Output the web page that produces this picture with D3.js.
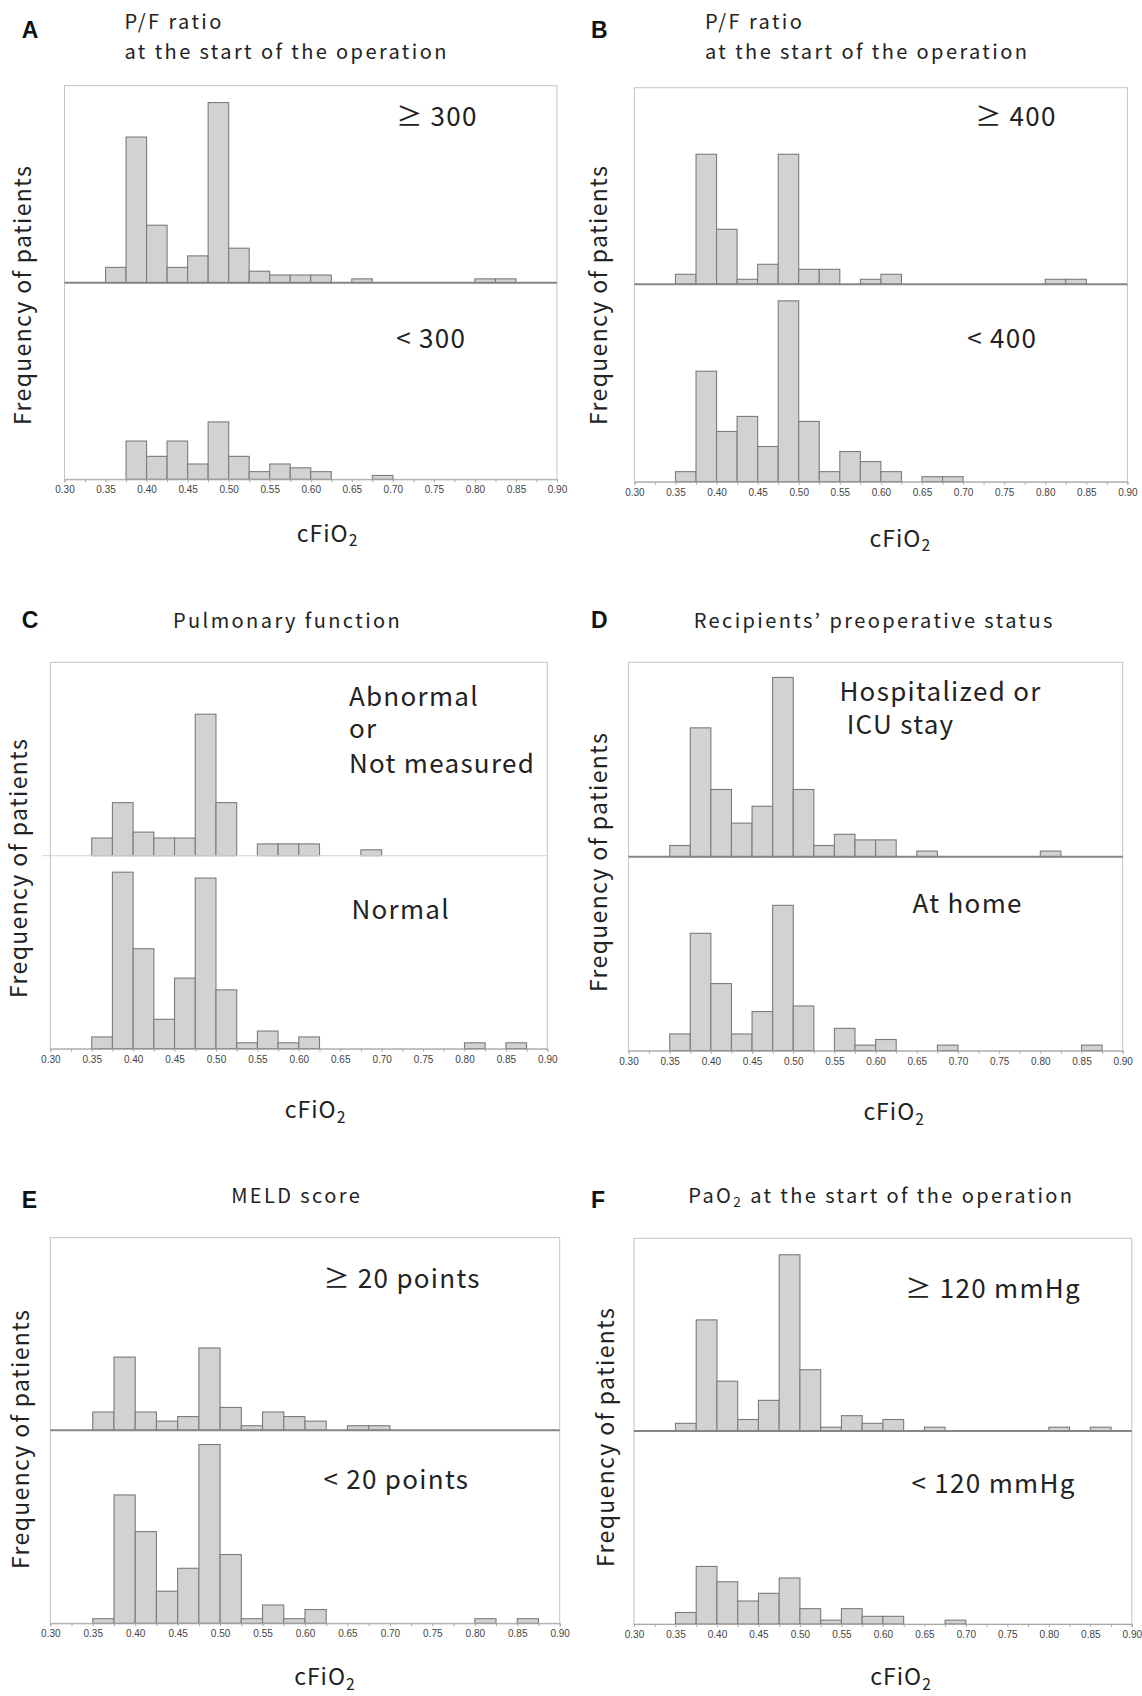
<!DOCTYPE html>
<html>
<head>
<meta charset="utf-8">
<script src="https://cdn.jsdelivr.net/npm/d3@7"></script>
<style>
body { margin: 0; background: #fff; }
svg text { font-family: "Noto Sans CJK JP", "Noto Sans", sans-serif; fill: #222; }
</style>
</head>
<body>
<svg id="fig" width="1142" height="1696"></svg>
<script>
// bins of cFiO2 (start of each 0.025 wide bin)
var binStart = [0.350, 0.375, 0.400, 0.425, 0.450, 0.475, 0.500, 0.525, 0.550, 0.575,
                0.600, 0.625, 0.650, 0.675, 0.700, 0.725, 0.750, 0.775, 0.800, 0.825, 0.850];
var binWidth = 0.025;
var tickValues = [0.30, 0.35, 0.40, 0.45, 0.50, 0.55, 0.60, 0.65, 0.70, 0.75, 0.80, 0.85, 0.90];
var tickLabels = ["0.30", "0.35", "0.40", "0.45", "0.50", "0.55", "0.60", "0.65", "0.70", "0.75", "0.80", "0.85", "0.90"];

var panelLetters = ["A", "B", "C", "D", "E", "F"];
var panelTitles = [
    ["P/F ratio", "at the start of the operation"],
    ["P/F ratio", "at the start of the operation"],
    ["Pulmonary function"],
    ["Recipients\u2019 preoperative status"],
    ["MELD score"],
    ["PaO_2 at the start of the operation"]
];
var topGroups = [["\u2265 300"], ["\u2265 400"], ["Abnormal", "or", "Not measured"],
                 ["Hospitalized or", "ICU stay"], ["\u2265 20 points"], ["\u2265 120 mmHg"]];
var bottomGroups = [["< 300"], ["< 400"], ["Normal"], ["At home"], ["< 20 points"], ["< 120 mmHg"]];

// frequency of patients per bin (upper group / lower group)
var countsA_top = [4, 38, 15, 4, 7, 47, 9, 3, 2, 2, 2, 0, 1, 0, 0, 0, 0, 0, 1, 1, 0];
var countsA_bot = [0, 10, 6, 10, 4, 15, 6, 2, 4, 3, 2, 0, 0, 1, 0, 0, 0, 0, 0, 0, 0];
var countsB_top = [2, 26, 11, 1, 4, 26, 3, 3, 0, 1, 2, 0, 0, 0, 0, 0, 0, 0, 1, 1, 0];
var countsB_bot = [2, 22, 10, 13, 7, 36, 12, 2, 6, 4, 2, 0, 1, 1, 0, 0, 0, 0, 0, 0, 0];
var countsC_top = [3, 9, 4, 3, 3, 24, 9, 0, 2, 2, 2, 0, 0, 1, 0, 0, 0, 0, 0, 0, 0];
var countsC_bot = [2, 30, 17, 5, 12, 29, 10, 1, 3, 1, 2, 0, 0, 0, 0, 0, 0, 0, 1, 0, 1];
var countsD_top = [2, 23, 12, 6, 9, 32, 12, 2, 4, 3, 3, 0, 1, 0, 0, 0, 0, 0, 1, 0, 0];
var countsD_bot = [3, 21, 12, 3, 7, 26, 8, 0, 4, 1, 2, 0, 0, 1, 0, 0, 0, 0, 0, 0, 1];
var countsE_top = [4, 16, 4, 2, 3, 18, 5, 1, 4, 3, 2, 0, 1, 1, 0, 0, 0, 0, 0, 0, 0];
var countsE_bot = [1, 28, 20, 7, 12, 39, 15, 1, 4, 1, 3, 0, 0, 0, 0, 0, 0, 0, 1, 0, 1];
var countsF_top = [2, 29, 13, 3, 8, 46, 16, 1, 4, 2, 3, 0, 1, 0, 0, 0, 0, 0, 1, 0, 1];
var countsF_bot = [3, 15, 11, 6, 8, 12, 4, 1, 4, 2, 2, 0, 0, 1, 0, 0, 0, 0, 0, 0, 0];
var yMax = [51.4, 39.3, 32.8, 34.7, 42.1, 50.3];

var topCounts = [countsA_top, countsB_top, countsC_top, countsD_top, countsE_top, countsF_top];
var botCounts = [countsA_bot, countsB_bot, countsC_bot, countsD_bot, countsE_bot, countsF_bot];

// layout of each panel (frame, texts)
var layout = [
    {l: 64.5, t: 85.7, r: 557, m: 282.7, b: 479.3, lx: 21.8, ly: 38.3, tx: 124.5, ty: [29.3, 59.3],
     gx: [396.2], gy: [126], hx: 396.2, hy: 348.3, fx: 31, fy: 295, cx: 296.8, cy: 541.7, midLight: false},
    {l: 634.4, t: 87.7, r: 1127.4, m: 284.3, b: 481.7, lx: 591, ly: 38.3, tx: 705, ty: [29.3, 59.3],
     gx: [975.2], gy: [126], hx: 967.2, hy: 348.3, fx: 607.4, fy: 295, cx: 869.6, cy: 546.7, midLight: false},
    {l: 50.3, t: 662.3, r: 547.3, m: 855.7, b: 1048.7, lx: 21.8, ly: 628, tx: 173, ty: [627.7],
     gx: [348.9, 348.9, 348.9], gy: [706, 737.7, 773.3], hx: 351.4, hy: 919, fx: 27.3, fy: 868, cx: 284.8, cy: 1118.3, midLight: true},
    {l: 628.5, t: 662.3, r: 1122.7, m: 856.7, b: 1050.7, lx: 591, ly: 628, tx: 693.7, ty: [627.7],
     gx: [839.4, 846.7], gy: [700.7, 734.3], hx: 912.6, hy: 912.7, fx: 607.4, fy: 862, cx: 863.4, cy: 1120, midLight: false},
    {l: 50.3, t: 1237.7, r: 559.7, m: 1430.3, b: 1623.3, lx: 21.8, ly: 1208.3, tx: 231.2, ty: [1202.7],
     gx: [323.4], gy: [1288.3], hx: 323.4, hy: 1489.3, fx: 29.1, fy: 1439, cx: 294.2, cy: 1685, midLight: false},
    {l: 634, t: 1238.3, r: 1131.8, m: 1431, b: 1624, lx: 591, ly: 1208, tx: 688.3, ty: [1202.7],
     gx: [905.3], gy: [1298.3], hx: 911.5, hy: 1492.7, fx: 613.6, fy: 1437, cx: 870.3, cy: 1685, midLight: false}
];

var svg = d3.select("#fig");
svg.append("rect").attr("width", 1142).attr("height", 1696).attr("fill", "#fff");

// writes text, turning "_2" into a subscript
function richText(sel, str, size) {
    var parts = str.split("_2");
    parts.forEach(function(p, i) {
        if (i > 0) {
            sel.append("tspan").attr("dy", size * 0.2).style("font-size", (size * 0.68) + "px").text("2");
            sel.append("tspan").attr("dy", -size * 0.2).text(p);
        } else {
            sel.append("tspan").text(p);
        }
    });
}

layout.forEach(function(L, i) {
    var g = svg.append("g");

    var x = d3.scaleLinear().domain([0.30, 0.90]).range([L.l, L.r]);
    var yTop = d3.scaleLinear().domain([0, yMax[i]]).range([L.m, L.t]);
    var yBot = d3.scaleLinear().domain([0, yMax[i]]).range([L.b, L.m]);

    // frame
    g.append("rect")
        .attr("x", L.l).attr("y", L.t)
        .attr("width", L.r - L.l).attr("height", L.b - L.t)
        .attr("fill", "none").attr("stroke", "#c4c4c4").attr("stroke-width", 1);

    function bars(counts, y) {
        var d = binStart.map(function(s, k) { return {s: s, v: counts[k]}; })
            .filter(function(e) { return e.v > 0; });
        g.append("g").selectAll("rect").data(d).enter().append("rect")
            .attr("x", function(e) { return x(e.s); })
            .attr("width", function(e) { return x(e.s + binWidth) - x(e.s); })
            .attr("y", function(e) { return y(e.v); })
            .attr("height", function(e) { return y(0) - y(e.v); })
            .attr("fill", "#d1d3d2")
            .attr("stroke", "#7b7b7b")
            .attr("stroke-width", 1.1);
    }
    bars(topCounts[i], yTop);
    bars(botCounts[i], yBot);

    // divider between the two groups
    if (L.midLight) {
        g.append("line").attr("x1", L.l - 8).attr("x2", L.r).attr("y1", L.m).attr("y2", L.m)
            .attr("stroke", "#d6d6d6").attr("stroke-width", 1);
    } else {
        g.append("line").attr("x1", L.l).attr("x2", L.r).attr("y1", L.m).attr("y2", L.m)
            .attr("stroke", "#858585").attr("stroke-width", 2);
    }

    // x axis
    var minor = tickValues.slice(1).map(function(v) { return v - binWidth; });
    var ax = g.append("g").attr("transform", "translate(0," + L.b + ")")
        .call(d3.axisBottom(x).tickValues(tickValues.concat(minor)).tickSize(3).tickPadding(4)
            .tickFormat(function(v) {
                var k = tickValues.findIndex(function(t) { return Math.abs(t - v) < 1e-9; });
                return k >= 0 ? tickLabels[k] : "";
            }));
    ax.select(".domain").attr("stroke", "#a8a8a8");
    ax.selectAll(".tick line").attr("stroke", "#a8a8a8");
    ax.selectAll(".tick text").style("font-family", "'Liberation Sans', Arial, sans-serif")
        .style("font-size", "10px").style("fill", "#444");

    // panel letter
    g.append("text").attr("x", L.lx).attr("y", L.ly)
        .style("font-family", "'Liberation Sans', Arial, sans-serif")
        .style("font-weight", "bold").style("font-size", "23px").style("fill", "#111")
        .text(panelLetters[i]);

    // title
    panelTitles[i].forEach(function(line, k) {
        var t = g.append("text").attr("x", L.tx).attr("y", L.ty[k])
            .style("font-size", "20px").style("letter-spacing", "2.4px");
        richText(t, line, 20);
    });

    // group labels (several lines in one text)
    var gt = g.append("text").style("font-size", "26px").style("letter-spacing", "1.3px");
    topGroups[i].forEach(function(line, k) {
        gt.append("tspan").attr("x", L.gx[k]).attr("y", L.gy[k]).text(line);
    });
    bottomGroups[i].forEach(function(line) {
        g.append("text").attr("x", L.hx).attr("y", L.hy)
            .style("font-size", "26px").style("letter-spacing", "1.3px").text(line);
    });

    // y label
    g.append("text")
        .attr("transform", "translate(" + L.fx + "," + L.fy + ") rotate(-90)")
        .attr("text-anchor", "middle")
        .style("font-size", "23px").style("letter-spacing", "1.35px")
        .text("Frequency of patients");

    // x label
    var c = g.append("text").attr("x", L.cx).attr("y", L.cy)
        .style("font-size", "23px").style("letter-spacing", "1px");
    richText(c, "cFiO_2", 23);
});
</script>
</body>
</html>
